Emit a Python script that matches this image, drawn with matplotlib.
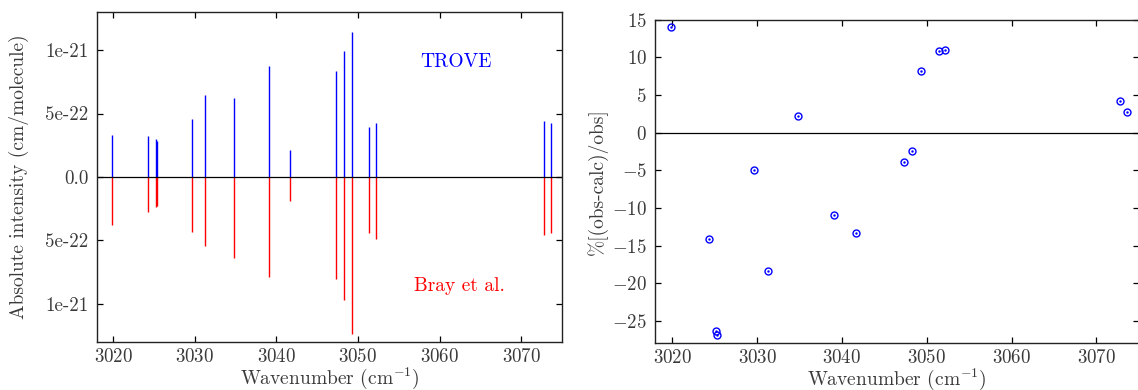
import matplotlib
matplotlib.use('Agg')
import matplotlib.pyplot as plt

# Line positions (cm^-1) and intensities (cm/molecule)
wavenumber = [3019.9, 3024.3, 3025.2, 3025.3, 3029.6, 3031.3, 3034.8, 3039.1,
              3041.7, 3047.3, 3048.3, 3049.3, 3051.4, 3052.2, 3072.8, 3073.6]
trove = [3.27e-22, 3.22e-22, 3.00e-22, 2.85e-22, 4.58e-22, 6.44e-22, 6.23e-22, 8.72e-22,
         2.09e-22, 8.35e-22, 9.92e-22, 11.39e-22, 3.95e-22, 4.29e-22, 4.40e-22, 4.29e-22]
bray = [3.80e-22, 2.78e-22, 2.36e-22, 2.25e-22, 4.35e-22, 5.42e-22, 6.36e-22, 7.86e-22,
        1.86e-22, 8.04e-22, 9.66e-22, 12.39e-22, 4.43e-22, 4.85e-22, 4.58e-22, 4.40e-22]

# Percent deviation (obs-calc)/obs
pct_diff = [14.03, -14.07, -26.4, -26.9, -4.98, -18.35, 2.21, -10.94,
            -13.32, -3.92, -2.47, 8.17, 10.81, 10.99, 4.24, 2.69]

int_ticks = [-1e-21, -5e-22, 0.0, 5e-22, 1e-21]
int_ticklabels = ['1e-21', '5e-22', '0.0', '5e-22', '1e-21']
x_ticks = [3020, 3030, 3040, 3050, 3060, 3070]
pct_ticks = [-25, -20, -15, -10, -5, 0, 5, 10, 15]

plt.rcParams['font.family'] = ['cmr10', 'DejaVu Serif']
plt.rcParams['mathtext.fontset'] = 'cm'
plt.rcParams['axes.unicode_minus'] = False
plt.rcParams['axes.formatter.use_mathtext'] = True

text_color = '#3a3a3a'
fs = 13.6
lfs = 14

fig = plt.figure(figsize=(11.38, 3.90), dpi=100)
ax1 = fig.add_axes([0.0852, 0.1231, 0.4086, 0.8462])
ax2 = fig.add_axes([0.5758, 0.1197, 0.4250, 0.8296])

# Left: stick spectrum
ax1.vlines(wavenumber, 0, trove, color='b', lw=1.0)
ax1.vlines(wavenumber, [-v for v in bray], 0, color='r', lw=1.0)
ax1.axhline(0, color='k', lw=0.9)
ax1.set_xlim(3018, 3075)
ax1.set_ylim(-1.3e-21, 1.3e-21)
ax1.set_yticks(int_ticks)
ax1.set_yticklabels(int_ticklabels)
ax1.set_xticks(x_ticks)
ax1.text(3062, 9.05e-22, 'TROVE', color='b', ha='center', va='center', fontsize=lfs)
ax1.text(3062.4, -8.6e-22, 'Bray et al.', color='r', ha='center', va='center', fontsize=lfs)
ax1.set_xlabel('Wavenumber (cm$^{-1}$)', fontsize=lfs, color=text_color, labelpad=0)
ax1.set_ylabel('Absolute intensity (cm/molecule)', fontsize=lfs, color=text_color, labelpad=12)

# Right: percent deviation
ax2.axhline(0, color='k', lw=0.9)
ax2.plot(wavenumber, pct_diff, 'o', mfc='none', mec='b', mew=1.0, ms=5)
ax2.plot(wavenumber, pct_diff, '.', color='b', ms=1.5)
ax2.set_xlim(3018, 3075)
ax2.set_ylim(-28, 15)
ax2.set_yticks(pct_ticks)
ax2.set_xticks(x_ticks)
ax2.set_xlabel('Wavenumber (cm$^{-1}$)', fontsize=lfs, color=text_color, labelpad=0)
ax2.set_ylabel('%[(obs-calc)/obs]', fontsize=lfs, color=text_color, labelpad=3)

for ax in (ax1, ax2):
    ax.tick_params(direction='in', top=True, right=True, length=4, width=0.9,
                   labelsize=fs, labelcolor=text_color, pad=6)
    ax.tick_params(axis='x', pad=4)
    for sp in ax.spines.values():
        sp.set_linewidth(1.0)
        sp.set_color('#222222')

fig.savefig('out.png', dpi=100)
